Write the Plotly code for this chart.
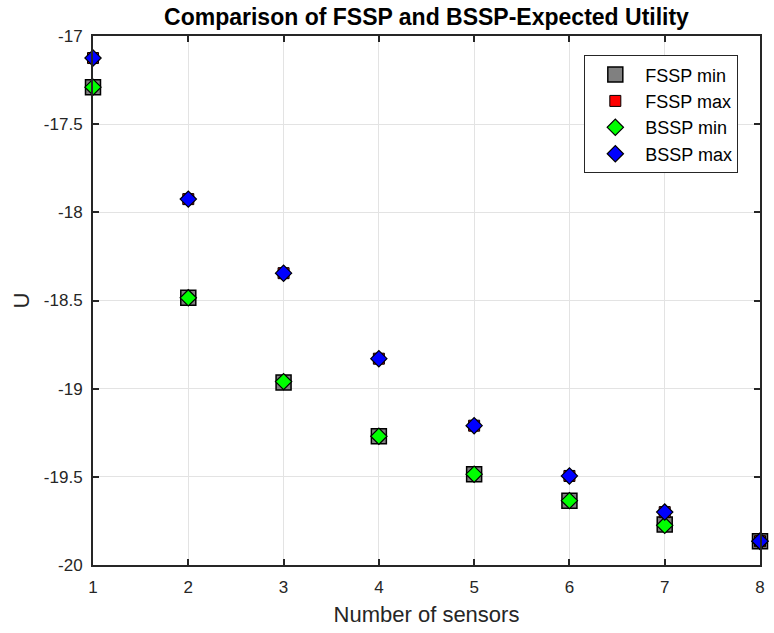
import plotly.graph_objects as go

sensors = [1, 2, 3, 4, 5, 6, 7, 8]
fssp_min = [-17.29, -18.485, -18.965, -19.27, -19.485, -19.635, -19.77, -19.865]
fssp_max = [-17.125, -17.925, -18.345, -18.83, -19.21, -19.495, -19.70, -19.865]
bssp_min = [-17.29, -18.485, -18.96, -19.27, -19.485, -19.635, -19.775, -19.865]
bssp_max = [-17.125, -17.925, -18.345, -18.83, -19.21, -19.495, -19.70, -19.865]
y_ticks = [-17, -17.5, -18, -18.5, -19, -19.5, -20]

FONT = "Liberation Sans, Arial, sans-serif"

fig = go.Figure()
fig.add_trace(go.Scatter(x=sensors, y=fssp_min, mode="markers", name="FSSP min", legendgroup="a",
                         marker=dict(symbol="square", size=15, color="#808080",
                                     line=dict(color="black", width=1.5)), cliponaxis=False))
fig.add_trace(go.Scatter(x=sensors, y=fssp_max, mode="markers", name="FSSP max", legendgroup="b",
                         marker=dict(symbol="square", size=11, color="red",
                                     line=dict(color="black", width=1)), cliponaxis=False))
fig.add_trace(go.Scatter(x=sensors, y=bssp_min, mode="markers", name="BSSP min", legendgroup="c",
                         marker=dict(symbol="diamond", size=12.5, color="#00ff00",
                                     line=dict(color="black", width=1.2)), cliponaxis=False))
fig.add_trace(go.Scatter(x=sensors, y=bssp_max, mode="markers", name="BSSP max", legendgroup="d",
                         marker=dict(symbol="diamond", size=12.5, color="blue",
                                     line=dict(color="black", width=1.2)), cliponaxis=False))

axis_common = dict(showline=True, linecolor="#262626", linewidth=2, mirror="ticks",
                   ticks="inside", ticklen=6, tickwidth=1.5, tickcolor="#262626",
                   showgrid=True, gridcolor="#e3e3e3", gridwidth=1, zeroline=False,
                   tickfont=dict(family=FONT, size=17, color="#262626"))

fig.update_layout(
    width=774, height=633,
    margin=dict(l=93, r=9, t=36, b=68),
    paper_bgcolor="white", plot_bgcolor="white",
    title=dict(text="<b>Comparison of FSSP and BSSP-Expected Utility</b>",
               x=0.5, xref="paper", xanchor="center",
               y=1 - 17 / 633, yref="container", yanchor="middle",
               font=dict(family=FONT, size=23, color="black")),
    xaxis=dict(range=[1, 8], tickvals=sensors, ticktext=[str(s) for s in sensors],
               ticklabelstandoff=6,
               title=dict(text="Number of sensors", standoff=10,
                          font=dict(family=FONT, size=22, color="#262626")),
               **axis_common),
    yaxis=dict(range=[-20, -17], tickvals=y_ticks, ticktext=[f"{v:g}" for v in y_ticks],
               ticklabelstandoff=5,
               title=dict(text="U", standoff=8,
                          font=dict(family=FONT, size=22, color="#262626")),
               **axis_common),
    legend=dict(x=(588 - 93) / 672, y=0.9635, xanchor="left", yanchor="top",
                bgcolor="white", bordercolor="#262626", borderwidth=1,
                font=dict(family=FONT, size=18, color="black"),
                traceorder="grouped", tracegroupgap=0, itemwidth=50),
    showlegend=True,
)

fig.write_html("out.html")
